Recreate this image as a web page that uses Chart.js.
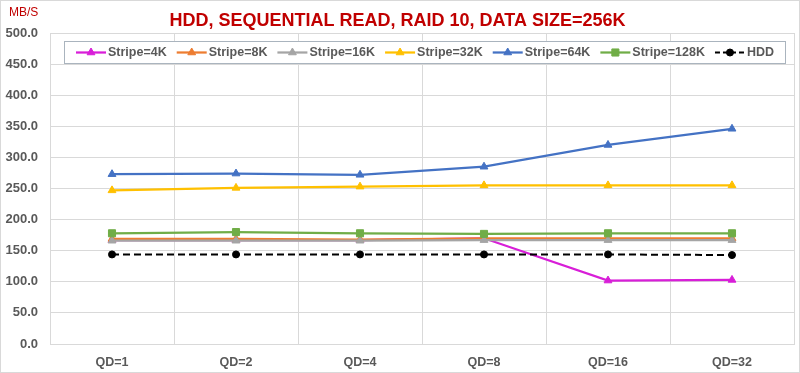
<!DOCTYPE html>
<html>
<head>
<meta charset="utf-8">
<script src="https://cdn.jsdelivr.net/npm/chart.js@4/dist/chart.umd.min.js"></script>
<style>
  html, body { margin: 0; padding: 0; background: #ffffff; }
  #wrap { width: 800px; height: 373px; position: relative; }
</style>
</head>
<body>
<div id="wrap"><canvas id="c" width="800" height="373"></canvas></div>
<script>
const categories = ["QD=1", "QD=2", "QD=4", "QD=8", "QD=16", "QD=32"];
const seriesLabels = ["Stripe=4K", "Stripe=8K", "Stripe=16K", "Stripe=32K", "Stripe=64K", "Stripe=128K", "HDD"];
const stripe4K   = [167, 167, 167, 170, 102, 103];
const stripe8K   = [169, 169, 168, 170, 170, 170];
const stripe16K  = [166, 166, 166, 167, 167, 167];
const stripe32K  = [247, 251, 253, 255, 255, 255];
const stripe64K  = [273, 274, 272, 285, 320, 346];
const stripe128K = [178, 180, 178, 177, 178, 178];
const hdd        = [144, 144, 144, 144, 144, 143];
const yTicks = { min: 0, max: 500, step: 50 };
const titleText = "HDD, SEQUENTIAL READ, RAID 10, DATA SIZE=256K";
const unitText = "MB/S";

const seriesValues = [stripe4K, stripe8K, stripe16K, stripe32K, stripe64K, stripe128K, hdd];
const colors = ["#D81ED8", "#ED7D31", "#A5A5A5", "#FFC000", "#4472C4", "#70AD47", "#000000"];
const styles = ["triangle", "triangle", "triangle", "triangle", "triangle", "rect", "circle"];
const radii  = [4.5, 4.5, 4.5, 4.5, 4.5, 5, 3.5];

const TEXT = "#595959";
const FONT = "'Liberation Sans', Arial, sans-serif";

const datasets = seriesLabels.map((lab, i) => ({
  label: lab,
  data: seriesValues[i],
  borderColor: colors[i],
  backgroundColor: colors[i],
  pointBackgroundColor: colors[i],
  pointBorderColor: colors[i],
  pointStyle: styles[i],
  pointRadius: radii[i],
  pointBorderWidth: 1,
  borderWidth: i === 6 ? 2 : 2.25,
  borderDash: i === 6 ? [7, 4] : [],
  tension: 0,
  fill: false,
  order: seriesLabels.length - 1 - i
}));

const decorPlugin = {
  id: "decor",
  beforeDraw(chart) {
    const ctx = chart.ctx;
    ctx.save();
    ctx.fillStyle = "#ffffff";
    ctx.fillRect(0, 0, chart.width, chart.height);
    ctx.restore();
  },
  afterDraw(chart) {
    const ctx = chart.ctx;
    ctx.save();
    // outer border
    ctx.strokeStyle = "#d9d9d9";
    ctx.lineWidth = 1;
    ctx.strokeRect(0.5, 0.5, chart.width - 1, chart.height - 1);
    // unit label
    ctx.fillStyle = "#C00000";
    ctx.font = "12px " + FONT;
    ctx.textBaseline = "middle";
    ctx.textAlign = "left";
    ctx.fillText(unitText, 9, 13);
    // legend box
    const bx = 64, by = 41, bw = 721, bh = 22;
    ctx.fillStyle = "#ffffff";
    ctx.fillRect(bx, by, bw, bh);
    ctx.strokeStyle = "#aab4be";
    ctx.strokeRect(bx + 0.5, by + 0.5, bw, bh);
    ctx.font = "bold 12.5px " + FONT;
    let x = 76;
    const cy = by + bh / 2 + 0.5;
    chart.data.datasets.forEach((ds) => {
      ctx.save();
      ctx.strokeStyle = ds.borderColor;
      ctx.lineWidth = ds.borderWidth;
      ctx.setLineDash(ds.borderDash.length ? [5, 3] : []);
      ctx.beginPath();
      ctx.moveTo(x, cy);
      ctx.lineTo(x + 30, cy);
      ctx.stroke();
      ctx.setLineDash([]);
      ctx.fillStyle = ds.pointBackgroundColor;
      ctx.strokeStyle = ds.pointBorderColor;
      ctx.lineWidth = 1;
      Chart.helpers.drawPoint(ctx, { pointStyle: ds.pointStyle, radius: ds.pointRadius, borderWidth: 1, rotation: 0 }, x + 15, cy);
      ctx.restore();
      ctx.fillStyle = TEXT;
      ctx.textAlign = "left";
      ctx.textBaseline = "middle";
      ctx.fillText(ds.label, x + 32, cy);
      x += 32 + ctx.measureText(ds.label).width + 10;
    });
    ctx.restore();
  }
};

new Chart(document.getElementById("c"), {
  type: "line",
  data: { labels: categories, datasets },
  plugins: [decorPlugin],
  options: {
    responsive: false,
    animation: false,
    devicePixelRatio: 1,
    layout: { padding: { left: 0, right: 5, top: 0, bottom: 0 } },
    plugins: {
      legend: { display: false },
      tooltip: { enabled: false },
      title: {
        display: true,
        text: titleText,
        color: "#C00000",
        font: { family: FONT, size: 18, weight: "bold" },
        padding: { top: 10, bottom: 1.4 }
      }
    },
    scales: {
      x: {
        offset: true,
        grid: { offset: true, color: "#d9d9d9", drawTicks: false },
        border: { color: "#d9d9d9" },
        ticks: { color: TEXT, font: { family: FONT, size: 12.5, weight: "bold" }, padding: 11 },
        afterFit(scale) { scale.height = 29; }
      },
      y: {
        min: yTicks.min,
        max: yTicks.max,
        grid: { color: "#d9d9d9", drawTicks: false },
        border: { display: false },
        ticks: {
          stepSize: yTicks.step,
          color: TEXT,
          font: { family: FONT, size: 13, weight: "bold" },
          padding: 12,
          callback: (v) => Number(v).toFixed(1)
        },
        afterFit(scale) { scale.width = 50; }
      }
    }
  }
});
</script>
</body>
</html>
